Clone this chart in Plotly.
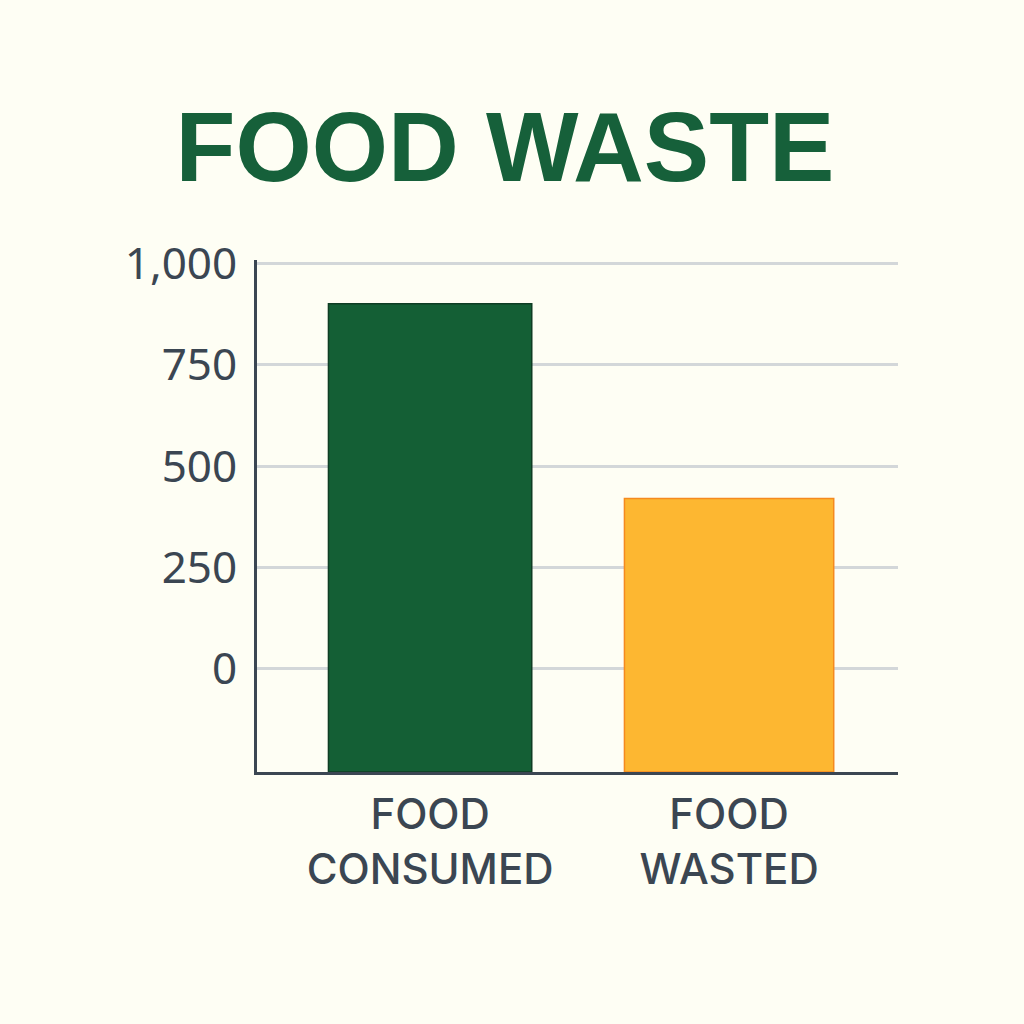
import plotly.graph_objects as go

categories = ["FOOD<br>CONSUMED", "FOOD<br>WASTED"]
values = [900, 420]
bar_colors = ["#145f35", "#fdb731"]
line_colors = ["#0f3d24", "#f58a1f"]
tick_vals = [0, 250, 500, 750, 1000]
tick_text = ["0", "250", "500", "750", "1,000"]
axis_min = -254
axis_max = 1008

bg = "#fefef4"
ink = "#3b4652"

fig = go.Figure()
fig.add_trace(go.Bar(
    x=categories,
    y=[v - axis_min for v in values],
    base=axis_min,
    width=[0.68, 0.70],
    marker=dict(color=bar_colors, line=dict(color=line_colors, width=1.5)),
    hoverinfo="skip",
))

fig.update_layout(
    width=1024, height=1024,
    paper_bgcolor=bg, plot_bgcolor=bg,
    margin=dict(l=257, r=126, t=260, b=252),
    showlegend=False,
    title=dict(
        text="<b>FOOD WASTE</b>",
        font=dict(family="Liberation Sans, Arial, sans-serif", size=98, color="#16603a"),
        x=505 / 1024, xanchor="center",
        y=1 - 147 / 1024, yanchor="middle", yref="container",
    ),
)

fig.update_xaxes(
    range=[-0.579, 1.565],
    showgrid=False,
    showline=True, linecolor=ink, linewidth=3,
    ticks="",
    tickfont=dict(family="Inter, Roboto, sans-serif", size=42, color=ink, weight=500),
    ticklabelstandoff=4,
    zeroline=False,
)
fig.update_yaxes(
    range=[axis_min, axis_max],
    tickvals=tick_vals, ticktext=tick_text,
    showgrid=True, gridcolor="#d3d7d9", gridwidth=3,
    showline=True, linecolor=ink, linewidth=3,
    ticks="",
    tickfont=dict(family="Noto Sans, Open Sans, sans-serif", size=44, color=ink),
    ticklabelstandoff=8,
    zeroline=False,
)

fig.write_html("out.html")
